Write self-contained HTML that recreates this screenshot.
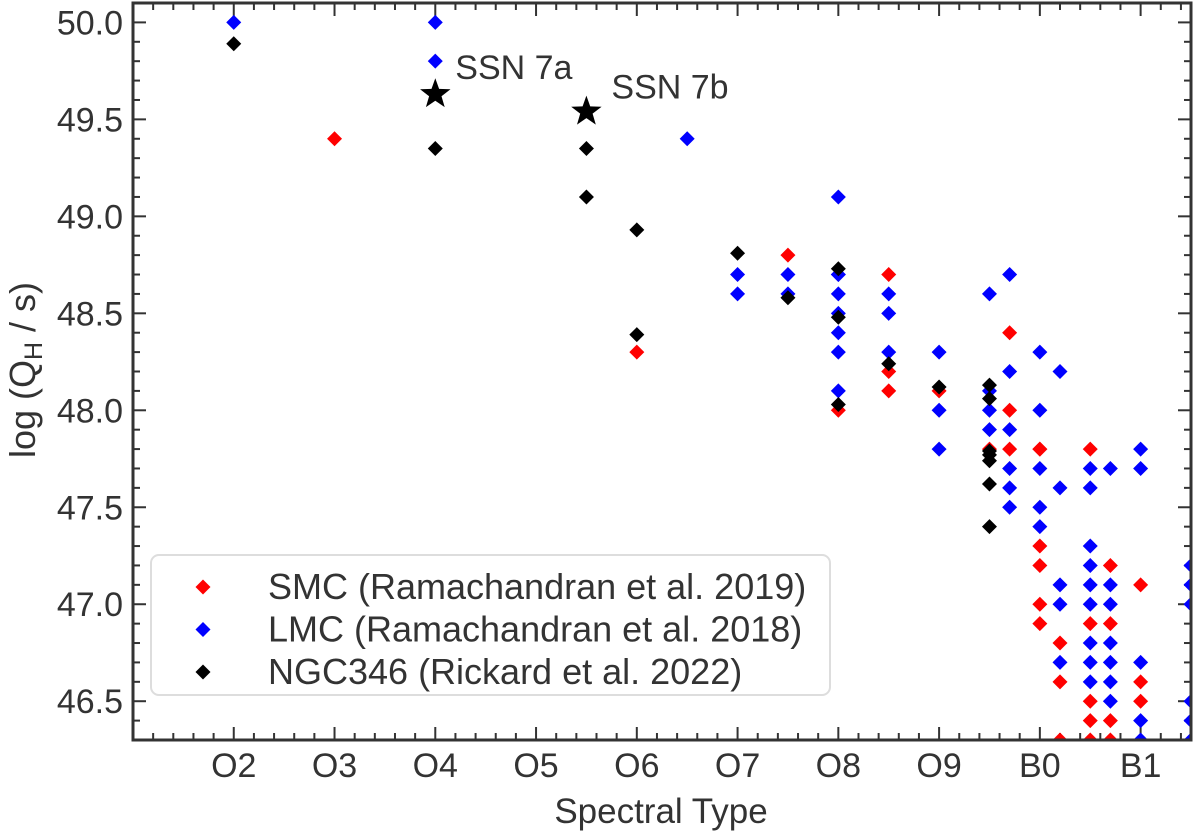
<!DOCTYPE html>
<html><head><meta charset="utf-8"><style>
html,body{margin:0;padding:0;background:#fff;}
svg{display:block;font-family:"Liberation Sans",sans-serif;}
</style></head><body>
<svg id="chart" width="1200" height="832" viewBox="0 0 1200 832">
<defs><clipPath id="clip"><rect x="133" y="3" width="1058" height="737"/></clipPath></defs>
<g id="grid"></g>
<g id="marks" clip-path="url(#clip)"></g>
<rect x="133" y="3" width="1058" height="737" fill="none" stroke="#333" stroke-width="3"/>
<g id="labels"></g>
<text x="35" y="370" transform="rotate(-90 35 370)" text-anchor="middle" font-size="36" fill="#333">log (Q<tspan font-size="25" dy="7">H</tspan><tspan dy="-7"> / s)</tspan></text>
<text x="661" y="823" text-anchor="middle" font-size="35" fill="#333">Spectral Type</text>
<g>
<rect x="151" y="555" width="679" height="140" rx="8" fill="#fff" stroke="#ddd" stroke-width="2"/>
<g id="legend"></g>
</g>
</svg>
<script>
const xMin=1.0,xMax=11.5,yMin=46.3,yMax=50.1;
const X0=133,X1=1191,Y0=740,Y1=3;
function sx(v){return X0+(v-xMin)/(xMax-xMin)*(X1-X0);}
function sy(v){return Y0-(v-yMin)/(yMax-yMin)*(Y0-Y1);}
const xTickVals=[2,3,4,5,6,7,8,9,10,11];
const xTickLabels=["O2","O3","O4","O5","O6","O7","O8","O9","B0","B1"];
const yTickVals=[46.5,47.0,47.5,48.0,48.5,49.0,49.5,50.0];
const yTickLabels=["46.5","47.0","47.5","48.0","48.5","49.0","49.5","50.0"];

const smcX=[3,6,7.5,8,8.5,8.5,8.5,9,9.5,9.7,9.7,9.7,10,10,10,10,10,10,10.2,10.2,10.2,10.5,10.5,10.5,10.5,10.5,10.7,10.7,10.7,10.7,11,11,11];
const smcY=[49.4,48.3,48.8,48.0,48.7,48.2,48.1,48.1,47.8,48.4,48.0,47.8,47.8,47.3,47.2,47.0,46.9,47.8,46.8,46.6,46.3,47.8,46.9,46.5,46.4,46.3,47.2,46.9,46.4,46.3,47.1,46.6,46.5];
const lmcX=[2,4,4,6.5,7,7,7.5,7.5,8,8,8,8,8,8,8,8,8.5,8.5,8.5,9,9,9,9.5,9.5,9.5,9.5,9.7,9.7,9.7,9.7,9.7,9.7,10,10,10,10,10,10.2,10.2,10.2,10.2,10.2,10.5,10.5,10.5,10.5,10.5,10.5,10.5,10.5,10.5,10.7,10.7,10.7,10.7,10.7,10.7,10.7,11,11,11,11,11,11.5,11.5,11.5,11.5,11.5,11.5];
const lmcY=[50.0,50.0,49.8,49.4,48.7,48.6,48.7,48.6,49.1,48.7,48.6,48.5,48.4,48.3,48.1,48.7,48.6,48.5,48.3,48.3,48.0,47.8,48.6,48.1,48.0,47.9,48.7,48.2,47.9,47.7,47.6,47.5,48.3,48.0,47.7,47.5,47.4,48.2,47.6,47.1,47.0,46.7,47.7,47.6,47.3,47.2,47.1,47.0,46.8,46.7,46.6,47.7,47.1,47.0,46.8,46.7,46.6,46.5,47.8,47.7,46.7,46.4,46.3,47.2,47.1,47.0,46.5,46.4,46.3];
const ngcX=[2,4,5.5,5.5,6,6,7,7.5,8,8,8,8.5,9,9.5,9.5,9.5,9.5,9.5,9.5,9.5];
const ngcY=[49.89,49.35,49.35,49.1,48.93,48.39,48.81,48.58,48.73,48.48,48.03,48.24,48.12,48.13,48.06,47.79,47.77,47.74,47.62,47.4];
const starX=[4,5.5];
const starY=[49.63,49.54];
const starLabels=["SSN 7a","SSN 7b"];

const NS="http://www.w3.org/2000/svg";
function mk(tag,attrs,parent){const e=document.createElementNS(NS,tag);for(const k in attrs)e.setAttribute(k,attrs[k]);parent.appendChild(e);return e;}
const grid=document.getElementById('grid'),marks=document.getElementById('marks'),labels=document.getElementById('labels');
for(let i=0;i<=52;i++){const v=1.0+i*0.2;if(v>xMax+1e-6)break;const x=sx(v);const major=Math.abs(v-Math.round(v))<1e-6&&Math.round(v)>=2;const L=major?13:7;
 const t1=mk('line',{x1:x,x2:x,y1:Y0,y2:Y0-L,stroke:'#333','stroke-width':2},grid);
 
 
 const t2=mk('line',{x1:x,x2:x,y1:Y1,y2:Y1+L,stroke:'#333','stroke-width':2},grid);
 
 }
xTickVals.forEach((v,i)=>{const t=mk('text',{x:sx(v),y:Y0+37,'text-anchor':'middle','font-size':34,fill:'#333'},labels);t.textContent=xTickLabels[i];
 
 });
for(let i=0;i<=38;i++){const v=46.3+i*0.1;if(v>yMax+1e-6)break;const y=sy(v);const major=Math.abs(v*2-Math.round(v*2))<1e-6;const L=major?13:7;
 const t1=mk('line',{x1:X0,x2:X0+L,y1:y,y2:y,stroke:'#333','stroke-width':2},grid);
 
 
 const t2=mk('line',{x1:X1,x2:X1-L,y1:y,y2:y,stroke:'#333','stroke-width':2},grid);
 
 }
yTickVals.forEach((v,i)=>{const t=mk('text',{x:X0-10,y:sy(v)+12,'text-anchor':'end','font-size':34,fill:'#333'},labels);t.textContent=yTickLabels[i];
 
 });
function diamond(x,y,c,parent){const r=7.5;return mk('polygon',{points:`${x},${y-r} ${x+r},${y} ${x},${y+r} ${x-r},${y}`,fill:c},parent);}
smcX.forEach((v,i)=>{const d=diamond(sx(v),sy(smcY[i]),'#ff0000',marks);
 
 });
lmcX.forEach((v,i)=>{const d=diamond(sx(v),sy(lmcY[i]),'#0000ff',marks);
 
 });
ngcX.forEach((v,i)=>{const d=diamond(sx(v),sy(ngcY[i]),'#000000',marks);
 
 });
function starPts(cx,cy,R,r){let p=[];for(let k=0;k<10;k++){const a=-Math.PI/2+k*Math.PI/5;const rr=k%2?r:R;p.push((cx+rr*Math.cos(a)).toFixed(1)+','+(cy+rr*Math.sin(a)).toFixed(1));}return p.join(' ');}
const starDx=[20,25],starDy=[-15,-13];
starX.forEach((v,i)=>{const s=mk('polygon',{points:starPts(sx(v),sy(starY[i]),16,6.5),fill:'#000'},marks);
 
 
 const t=mk('text',{x:sx(v)+starDx[i],y:sy(starY[i])+starDy[i],'font-size':34,fill:'#333'},marks);t.textContent=starLabels[i];
 
 });
const lg=document.getElementById('legend');
const legendText=["SMC (Ramachandran et al. 2019)","LMC (Ramachandran et al. 2018)","NGC346 (Rickard et al. 2022)"];
const legendCol=['#ff0000','#0000ff','#000000'];
legendText.forEach((s,i)=>{const y=587+i*42.5;const d=diamond(203,y,legendCol[i],lg);
 
 
 const t=mk('text',{x:268,y:y+12,'font-size':36,fill:'#333'},lg);t.textContent=s;
 
 });
</script>
</body></html>
